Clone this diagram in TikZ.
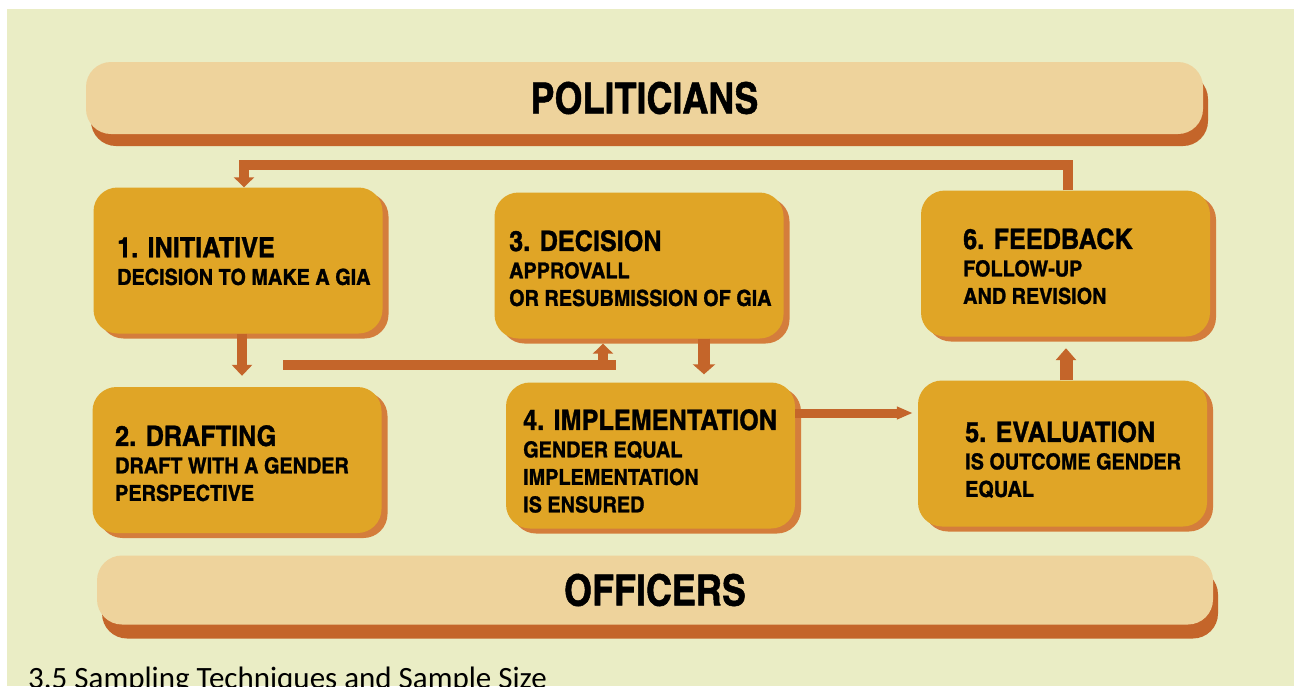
\documentclass[tikz,border=0pt]{standalone}
\usepackage{fontspec}
\usetikzlibrary{arrows.meta,shadows,calc}
\newfontfamily\cnb{texgyreheroscn-bold.otf}[FakeStretch=1.1,FakeBold=1.2]
\newfontfamily\cnbar{texgyreheroscn-bold.otf}[FakeStretch=1.02,FakeBold=1.2]
\newfontfamily\calfont{Carlito}
\definecolor{bgc}{RGB}{234,237,197}
\definecolor{barc}{RGB}{238,211,156}
\definecolor{barsh}{RGB}{196,101,42}
\definecolor{boxc}{RGB}{224,165,38}
\definecolor{boxsh}{RGB}{212,125,60}
\definecolor{arrc}{RGB}{196,101,42}
\newcommand\hd[1]{{\fontsize{28}{27.5}\selectfont #1}}
\tikzset{
  stepbox/.style={draw=none, fill=boxc, rounded corners=24pt, minimum width=289pt, minimum height=146pt, inner sep=0pt,
    drop shadow={opacity=1, fill=boxsh, shadow xshift=6pt, shadow yshift=-5pt}},
  barbox/.style={draw=none, fill=barc, rounded corners=25pt, inner sep=0pt, font=\cnbar\fontsize{43}{43}\selectfont},
  txt/.style={anchor=north west, inner sep=0pt, align=left, font=\cnb\fontsize{22}{27.5}\selectfont},
  conn/.style={draw=arrc, line width=10pt},
}
\begin{document}
\begin{tikzpicture}[x=1pt,y=-1pt]
\useasboundingbox (0,0) rectangle (1294,686);
\fill[white] (0,0) rectangle (1294,686);
\fill[bgc] (7,9) rectangle (1294,686);
% bars
\node[barbox, minimum width=1117pt, minimum height=72pt,
  drop shadow={opacity=1, fill=barsh, shadow xshift=5pt, shadow yshift=-12pt}] (pol) at (644.5,98) {POLITICIANS};
\node[barbox, minimum width=1116pt, minimum height=69pt,
  drop shadow={opacity=1, fill=barsh, shadow xshift=5pt, shadow yshift=-14pt}] (off) at (655,590) {OFFICERS};
% boxes
\node[stepbox] (b1) at (238,260.5) {};
\node[stepbox] (b3) at (639,265.5) {};
\node[stepbox] (b6) at (1065.5,263.5) {};
\node[stepbox] (b2) at (237,460) {};
\node[stepbox] (b4) at (650.5,455.5) {};
\node[stepbox] (b5) at (1062.5,453.5) {};
% texts
\node[txt] (t1) at (117,237) {\hd{1. INITIATIVE}\\DECISION TO MAKE A GIA};
\node[txt] (t3) at (509,230) {\hd{3. DECISION}\\APPROVALL\\OR RESUBMISSION OF GIA};
\node[txt] (t6) at (963,228) {\hd{6. FEEDBACK}\\FOLLOW-UP\\AND REVISION};
\node[txt] (t2) at (115,425) {\hd{2. DRAFTING}\\DRAFT WITH A GENDER\\PERSPECTIVE};
\node[txt] (t4) at (523,409) {\hd{4. IMPLEMENTATION}\\GENDER EQUAL\\IMPLEMENTATION\\IS ENSURED};
\node[txt] (t5) at (965,421) {\hd{5. EVALUATION}\\IS OUTCOME GENDER\\EQUAL};
% connectors
\draw[conn, -{Triangle[width=20pt,length=10pt]}]
  ([xshift=2pt]b6.north) -- ([xshift=2pt]b6.north |- 0,164.5) -| ([xshift=6pt]b1.north);
\draw[conn, -{Triangle[width=20pt,length=11pt]}]
  ([xshift=4pt]b1.south) -- ([xshift=5pt,yshift=11pt]b2.north);
\coordinate (s) at (283,365);
\draw[conn] (s) -- ++(333,0);
\draw[conn, -{Triangle[width=20pt,length=10pt]}]
  (s) -| ([xshift=-36pt,yshift=-5pt]b3.south);
\draw[conn, line width=12pt, -{Triangle[width=22pt,length=10pt]}]
  ([xshift=65pt]b3.south) -- ([xshift=53.5pt,yshift=8pt]b4.north);
\draw[conn, line width=9pt, -{Triangle[width=12pt,length=16pt]}]
  ([yshift=42.5pt]b4.east) -- ([xshift=-5pt,yshift=40.5pt]b5.west);
\draw[conn, line width=13pt, -{Triangle[width=20pt,length=12pt]}]
  ([xshift=3.5pt]b5.north) -- ([xshift=0.5pt,yshift=-11.5pt]b6.south);
% caption
\node[anchor=base west, inner sep=0pt, font=\calfont\fontsize{31}{31}\selectfont] (cap) at (28,688) {3.5 Sampling Techniques and Sample Size};
\end{tikzpicture}
\end{document}
